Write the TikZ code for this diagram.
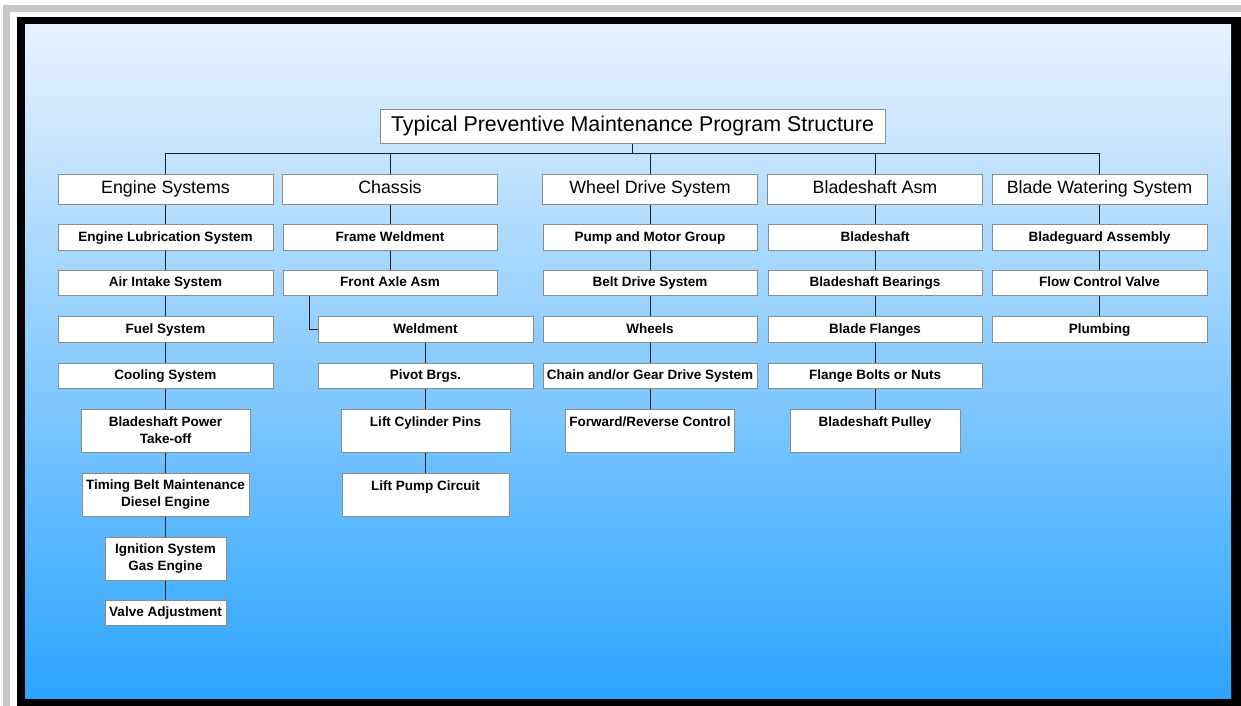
\documentclass[tikz,border=0pt]{standalone}
\usepackage{fontspec}
\setmainfont{Liberation Sans}
\usepackage{tikz}

\definecolor{bgtop}{RGB}{232,242,254}
\definecolor{bgbot}{RGB}{44,165,255}
\definecolor{boxline}{RGB}{140,140,140}
\definecolor{linkcol}{RGB}{30,30,30}

\begin{document}
\begin{tikzpicture}[x=1pt,y=-1pt,
        box/.style={draw=boxline, fill=white, line width=1pt, inner sep=0pt, align=center},
        head/.style={box, minimum width=215pt, minimum height=30pt, text height=13pt, text depth=3.8pt, font=\fontsize{17.8}{20}\selectfont},
        item/.style={box, minimum height=25.5pt, text height=10pt, text depth=2.8pt, font=\bfseries\fontsize{13.5}{17}\selectfont},
        tall/.style={box, minimum height=43pt, font=\bfseries\fontsize{13.5}{17}\selectfont},
        link/.style={draw=linkcol, line width=1pt}]
        \useasboundingbox (0,0) rectangle (1241,706);
        \fill [black!22] (3,5) rectangle (1241,706);
        \fill [white] (10,12) rectangle (1241,706);
        \fill [black] (17,17) rectangle (1241,706);
        \shade [top color=bgtop, bottom color=bgbot] (25,25) rectangle (1231,698);

        \node [box, minimum width=505pt, minimum height=33pt, text height=15pt, text depth=4.5pt, font=\fontsize{21.4}{24}\selectfont] (title) at (632.5,126.5) {Typical Preventive Maintenance Program Structure};

        \node [head] (eng) at (165.5,189) {Engine Systems};
        \node [head] (chs) at (390,189) {Chassis};
        \node [head] (whl) at (650,189) {Wheel Drive System};
        \node [head] (bsa) at (875,189) {Bladeshaft Asm};
        \node [head] (bws) at (1099.5,189) {Blade Watering System};

        \node [item, minimum width=215pt] (eng1) at (165.5,237.5) {Engine Lubrication System};
        \node [item, minimum width=215pt] (eng2) at (165.5,283) {Air Intake System};
        \node [item, minimum width=215pt] (eng3) at (165.5,329.5) {Fuel System};
        \node [item, minimum width=215pt] (eng4) at (165.5,376) {Cooling System};
        \node [tall, minimum width=169pt] (eng5) at (165.5,430.5) {Bladeshaft Power\\Take-off};
        \node [tall, minimum width=167pt] (eng6) at (165.5,494.5) {Timing Belt Maintenance\\Diesel Engine};
        \node [tall, minimum width=121pt] (eng7) at (165.5,558.5) {Ignition System\\Gas Engine};
        \node [item, minimum width=121pt] (eng8) at (165.5,613) {Valve Adjustment};

        \node [item, minimum width=214pt] (chs1) at (390,237.5) {Frame Weldment};
        \node [item, minimum width=214pt] (chs2) at (390,283) {Front Axle Asm};
        \node [item, minimum width=215pt] (chs3) at (425.5,329.5) {Weldment};
        \node [item, minimum width=215pt] (chs4) at (425.5,376) {Pivot Brgs.};
        \node [tall, minimum width=169pt] (chs5) at (425.5,430.5) {Lift Cylinder Pins\\\mbox{}};
        \node [tall, minimum width=167pt] (chs6) at (425.5,494.5) {Lift Pump Circuit\\\mbox{}};

        \node [item, minimum width=214pt] (whl1) at (650,237.5) {Pump and Motor Group};
        \node [item, minimum width=214pt] (whl2) at (650,283) {Belt Drive System};
        \node [item, minimum width=214pt] (whl3) at (650,329.5) {Wheels};
        \node [item, minimum width=214pt] (whl4) at (650,376) {Chain and/or Gear Drive System};
        \node [tall, minimum width=169pt] (whl5) at (650,430.5) {Forward/Reverse Control\\\mbox{}};

        \node [item, minimum width=214pt] (bsa1) at (875,237.5) {Bladeshaft};
        \node [item, minimum width=214pt] (bsa2) at (875,283) {Bladeshaft Bearings};
        \node [item, minimum width=214pt] (bsa3) at (875,329.5) {Blade Flanges};
        \node [item, minimum width=214pt] (bsa4) at (875,376) {Flange Bolts or Nuts};
        \node [tall, minimum width=170pt] (bsa5) at (875,430.5) {Bladeshaft Pulley\\\mbox{}};

        \node [item, minimum width=215pt] (bws1) at (1099.5,237.5) {Bladeguard Assembly};
        \node [item, minimum width=215pt] (bws2) at (1099.5,283) {Flow Control Valve};
        \node [item, minimum width=215pt] (bws3) at (1099.5,329.5) {Plumbing};

        \coordinate (bus) at (632.5,153);
        \draw [link] (title.south) -- (bus);
        \foreach \h in {eng,chs,whl,bsa,bws}
            \draw [link] (\h.north) |- (bus);
        \foreach \a/\b in {eng/eng1,eng1/eng2,eng2/eng3,eng3/eng4,eng4/eng5,eng5/eng6,eng6/eng7,eng7/eng8,
                chs/chs1,chs1/chs2,chs3/chs4,chs4/chs5,chs5/chs6,
                whl/whl1,whl1/whl2,whl2/whl3,whl3/whl4,whl4/whl5,
                bsa/bsa1,bsa1/bsa2,bsa2/bsa3,bsa3/bsa4,bsa4/bsa5,
                bws/bws1,bws1/bws2,bws2/bws3}
            \draw [link] (\a.south) -- (\b.north);
        \draw [link] ([xshift=27pt]chs2.south west) |- (chs3.west);
\end{tikzpicture}
\end{document}
